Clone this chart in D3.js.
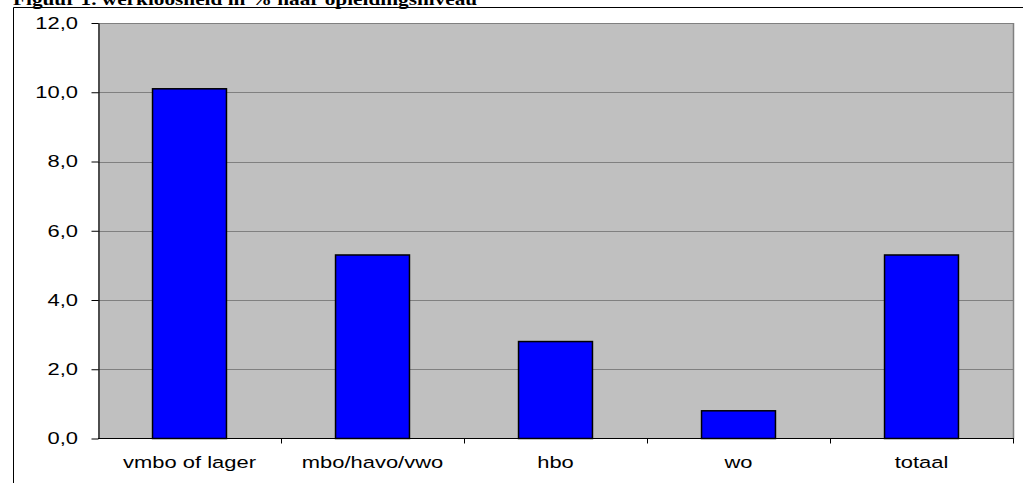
<!DOCTYPE html>
<html>
<head>
<meta charset="utf-8">
<script src="https://cdn.jsdelivr.net/npm/d3@7"></script>
<style>
  body { margin: 0; background: #fff; }
  svg { display: block; }
</style>
</head>
<body>
<div id="chart"></div>
<script>
// data
const categories = ["vmbo of lager", "mbo/havo/vwo", "hbo", "wo", "totaal"];
const values = [10.1, 5.3, 2.8, 0.8, 5.3];
const yTicks = [0, 2, 4, 6, 8, 10, 12];
const title = "Figuur 1. werkloosheid in % naar opleidingsniveau";

const width = 1023, height = 483;
const plot = { left: 98, top: 23, right: 1013, bottom: 438.5 };
const stretch = 1.33; // the scan is stretched horizontally
const sans = "'Liberation Sans', Arial, sans-serif";

const svg = d3.select("#chart").append("svg")
  .attr("width", width)
  .attr("height", height);

// title, clipped at the top edge like the scan
svg.append("text")
  .attr("transform", `translate(13,4.5) scale(${stretch},1)`)
  .attr("font-family", "'Liberation Serif', 'Times New Roman', serif")
  .attr("font-weight", "bold")
  .attr("font-size", 16)
  .attr("fill", "#000")
  .text(title);

// outer frame (left + top line)
svg.append("path")
  .attr("d", `M13.5,${height} V7.5 H${width}`)
  .attr("fill", "none")
  .attr("stroke", "#000")
  .attr("stroke-width", 1);

const x = d3.scaleBand()
  .domain(categories)
  .range([plot.left, plot.right])
  .paddingInner(0.596)
  .paddingOuter(0.298);

const y = d3.scaleLinear()
  .domain([0, 12])
  .range([plot.bottom, plot.top]);

// grey plot background
svg.append("rect")
  .attr("x", plot.left)
  .attr("y", plot.top)
  .attr("width", plot.right - plot.left)
  .attr("height", plot.bottom - plot.top)
  .attr("fill", "#c0c0c0");

// gridlines
svg.append("g")
  .selectAll("line")
  .data(yTicks.filter(d => d > 0))
  .enter().append("line")
  .attr("x1", plot.left)
  .attr("x2", plot.right)
  .attr("y1", d => Math.round(y(d)) + 0.5)
  .attr("y2", d => Math.round(y(d)) + 0.5)
  .attr("stroke", "#808080")
  .attr("stroke-width", 1.2);

// right border of plot area
svg.append("line")
  .attr("x1", plot.right + 0.5).attr("x2", plot.right + 0.5)
  .attr("y1", plot.top).attr("y2", plot.bottom)
  .attr("stroke", "#808080")
  .attr("stroke-width", 1.5);

// bars
svg.append("g")
  .selectAll("rect")
  .data(values)
  .enter().append("rect")
  .attr("x", (d, i) => x(categories[i]))
  .attr("y", d => y(d))
  .attr("width", x.bandwidth())
  .attr("height", d => plot.bottom - y(d))
  .attr("fill", "#0000ff")
  .attr("stroke", "#000")
  .attr("stroke-width", 1.5);

// y axis
const yAxis = svg.append("g")
  .attr("transform", `translate(${plot.left + 0.5},0)`)
  .call(d3.axisLeft(y)
    .tickValues(yTicks)
    .tickSize(7)
    .tickSizeOuter(0)
    .tickFormat(d => d3.format(".1f")(d).replace(".", ",")));

yAxis.select(".domain").attr("stroke", "#000").attr("stroke-width", 1.2);
yAxis.selectAll(".tick line").attr("stroke", "#000");
yAxis.selectAll("text")
  .attr("x", -20.5 / stretch)
  .attr("transform", `scale(${stretch},1)`)
  .attr("font-family", sans)
  .attr("font-size", 16.5)
  .attr("fill", "#000");

// x axis, ticks at category boundaries
svg.append("line")
  .attr("x1", plot.left).attr("x2", plot.right + 1)
  .attr("y1", plot.bottom).attr("y2", plot.bottom)
  .attr("stroke", "#000")
  .attr("stroke-width", 1.2);

const step = x.step();
const bounds = categories.map((c, i) => plot.left + step * (i + 1));
svg.append("g")
  .selectAll("line")
  .data(bounds)
  .enter().append("line")
  .attr("x1", d => Math.round(d) + 0.5)
  .attr("x2", d => Math.round(d) + 0.5)
  .attr("y1", plot.bottom)
  .attr("y2", plot.bottom + 5)
  .attr("stroke", "#000");

svg.append("g")
  .selectAll("text")
  .data(categories)
  .enter().append("text")
  .attr("transform", d => `translate(${x(d) + x.bandwidth() / 2},468) scale(${stretch},1)`)
  .attr("text-anchor", "middle")
  .attr("font-family", sans)
  .attr("font-size", 16.5)
  .attr("fill", "#000")
  .text(d => d);
</script>
</body>
</html>
